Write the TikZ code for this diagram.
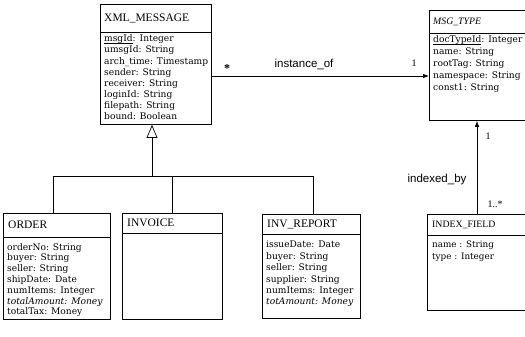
\documentclass[tikz,border=0pt]{standalone}
\usepackage{fontspec}
\setmainfont{DejaVu Serif}
\newfontfamily\titlefont{Liberation Serif}
\newfontfamily\labfont{Liberation Sans}
\usetikzlibrary{arrows.meta,positioning}
\newcommand{\keyattr}[1]{\underline{\smash{#1}}}

\tikzset{
  classbox/.style={draw, line width=0.9pt, anchor=north west, inner sep=0pt},
  classname/.style={anchor=west, inner sep=0pt, font=\titlefont\fontsize{11.5}{12}\selectfont},
  attrlist/.style={anchor=north west, align=left, inner sep=0pt, font=\fontsize{9.1}{11.1}\selectfont},
  assoclab/.style={inner sep=0pt, font=\labfont\fontsize{11.5}{12}\selectfont},
  multlab/.style={inner sep=0pt, font=\titlefont\fontsize{10}{12}\selectfont},
  conn/.style={line width=0.7pt},
}

\begin{document}
\begin{tikzpicture}[x=1pt,y=-1pt]
\useasboundingbox (0,0) rectangle (525,337);
\clip (0,0) rectangle (525,337);
% classe XML_MESSAGE
\node[classbox, minimum width=111, minimum height=120] (xml) at (100,4) {};
\draw[line width=0.9pt] (xml.west |- 0,32) -- (xml.east |- 0,32);
\node[classname] (xmlname) at (104,18) {XML\_MESSAGE};
\node[attrlist] (xmlattr) at (104,35) {\keyattr{msgId}: Integer\\umsgId: String\\arch\_time: Timestamp\\sender: String\\receiver: String\\loginId: String\\filepath: String\\bound: Boolean};
% classe MSG_TYPE
\node[classbox, minimum width=110, minimum height=110] (msg) at (429,10) {};
\draw[line width=0.9pt] (msg.west |- 0,33) -- (msg.east |- 0,33);
\node[classname, font=\titlefont\itshape\fontsize{9.8}{12}\selectfont] (msgname) at (433,22) {MSG\_TYPE};
\node[attrlist, font=\fontsize{9.1}{12}\selectfont] (msgattr) at (433,36) {\keyattr{docTypeId}: Integer\\name: String\\rootTag: String\\namespace: String\\const1: String};
% sottoclassi
\node[classbox, minimum width=107, minimum height=106] (order) at (3,213) {};
\draw[line width=0.9pt] (order.west |- 0,237) -- (order.east |- 0,237);
\node[classname] (ordername) at (8,225) {ORDER};
\node[attrlist, font=\fontsize{9.1}{10.8}\selectfont] (orderattr) at (7,243) {orderNo: String\\buyer: String\\seller: String\\shipDate: Date\\numItems: Integer\\\textit{totalAmount: Money}\\totalTax: Money};
\node[classbox, minimum width=100, minimum height=106] (invoice) at (122,213) {};
\draw[line width=0.9pt] (invoice.west |- 0,233) -- (invoice.east |- 0,233);
\node[classname] (invoicename) at (127,223) {INVOICE};
\node[classbox, minimum width=98, minimum height=104] (invrep) at (262,214) {};
\draw[line width=0.9pt] (invrep.west |- 0,234) -- (invrep.east |- 0,234);
\node[classname] (invrepname) at (267,224) {INV\_REPORT};
\node[attrlist, font=\fontsize{9.1}{11.4}\selectfont] (invrepattr) at (266,241) {issueDate: Date\\buyer: String\\seller: String\\supplier: String\\numItems: Integer\\\textit{totAmount: Money}};
% classe INDEX_FIELD
\node[classbox, minimum width=110, minimum height=96] (idx) at (427,214) {};
\draw[line width=0.9pt] (idx.west |- 0,235) -- (idx.east |- 0,235);
\node[classname, font=\titlefont\fontsize{9.8}{12}\selectfont] (idxname) at (432,225) {INDEX\_FIELD};
\node[attrlist, font=\fontsize{8.8}{12}\selectfont] (idxattr) at (432,241) {name : String\\type : Integer};
% generalizzazione
\coordinate (gen) at (152,176);
\coordinate (genl) at (53,176);
\coordinate (genr) at (313,176);
\draw[conn, -{Triangle[open, length=13pt, width=11pt]}] (gen) -- (gen |- xml.south);
\draw[conn] (genl) -- (genr);
\draw[conn] (genl) -- (genl |- order.north);
\draw[conn] (gen -| invoice.north) -- (invoice.north);
\draw[conn] (genr) -- (genr |- invrep.north);
% associazioni
\coordinate (inst) at (0,76);
\draw[conn, -{Latex[length=6pt, width=4.5pt]}] (inst -| xml.east) -- (inst -| msg.west);
\node[multlab, font=\titlefont\bfseries\fontsize{12}{12}\selectfont] (instmult1) at (227,69) {*};
\node[assoclab] (instlab) at (304,64) {instance\_of};
\node[multlab] (instmult2) at (414,63) {1};
\coordinate (ixf) at (477,0);
\draw[conn, -{Latex[length=6pt, width=4.5pt]}] (idx.north -| ixf) -- (msg.south -| ixf);
\node[assoclab] (ixlab) at (437,180) {indexed\_by};
\node[multlab] (ixmult1) at (488,136) {1};
\node[multlab] (ixmult2) at (495,204) {1..*};
\end{tikzpicture}
\end{document}
